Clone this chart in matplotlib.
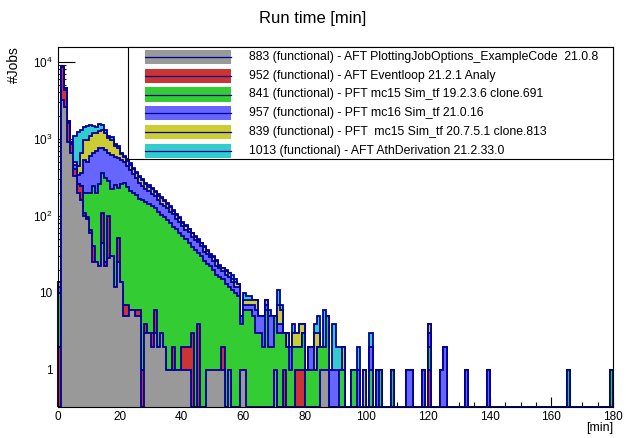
import numpy as np
import matplotlib
matplotlib.use("Agg")
import matplotlib.pyplot as plt
from matplotlib.ticker import MultipleLocator, LogLocator, FuncFormatter, NullFormatter
from matplotlib.patches import Rectangle
from matplotlib.lines import Line2D

plt.rcParams['font.family'] = ['Liberation Sans', 'DejaVu Sans']
plt.rcParams['mathtext.fontset'] = 'custom'
plt.rcParams['mathtext.rm'] = 'Liberation Sans'

# jobs per 1-minute bin, bins 0..104 (stack order bottom -> top)
gray = [0, 3200, 2600, 920, 650, 330, 200, 160, 100, 90,
        60, 25, 25, 22, 45, 22, 28, 30, 12, 25,
        14, 5, 5, 6, 6, 5, 5, 0, 3, 3,
        2, 3, 2, 3, 2, 1, 1, 1, 1, 1,
        1, 1, 1, 0, 0, 0, 0, 0, 1, 1,
        1, 1, 1, 1, 0, 1, 0, 0, 0, 1,
        1, 0, 0, 0, 0, 0, 0, 0, 0, 0,
        1, 0, 0, 0, 0, 0, 0, 0, 0, 0,
        0, 0, 0, 0, 0, 1, 1, 1, 0, 0,
        0, 0, 0, 0, 0, 0, 0, 0, 0, 0,
        0, 0, 0, 0, 0]
red = [2, 5400, 1700, 700, 200, 80, 60, 80, 10, 5,
       5, 15, 0, 0, 63, 3, 72, 0, 0, 27,
       0, 2, 2, 0, 0, 1, 1, 1, 1, 0,
       1, 3, 0, 0, 0, 0, 0, 1, 0, 0,
       1, 1, 1, 3, 0, 4, 0, 0, 0, 0,
       0, 0, 0, 1, 0, 0, 0, 0, 0, 0,
       0, 0, 0, 0, 0, 0, 0, 0, 0, 0,
       0, 0, 0, 1, 0, 0, 0, 1, 1, 1,
       0, 0, 0, 0, 0, 0, 0, 0, 0, 0,
       0, 0, 0, 0, 0, 0, 0, 0, 0, 0,
       0, 0, 0, 0, 0]
green = [8, 50, 100, 0, 0, 0, 0, 0, 90, 105,
         135, 200, 175, 238, 252, 285, 181, 190, 240, 180,
         241, 260, 231, 201, 190, 180, 160, 161, 149, 140,
         130, 119, 110, 99, 93, 86, 80, 69, 66, 59,
         52, 48, 42, 36, 36, 29, 30, 26, 23, 21,
         19, 16, 15, 13, 13, 11, 11, 10, 9, 3,
         5, 6, 6, 5, 3, 3, 2, 6, 2, 2,
         4, 3, 3, 2, 2, 1, 2, 1, 1, 2,
         1, 1, 1, 1, 2, 1, 1, 4, 0, 0,
         0, 1, 1, 0, 0, 1, 1, 0, 0, 0,
         0, 1, 0, 0, 1]
blue = [2, 30, 80, 50, 40, 50, 80, 120, 330, 300,
        400, 410, 500, 500, 390, 410, 380, 400, 330, 330,
        280, 230, 200, 180, 150, 120, 100, 85, 70, 65,
        60, 55, 50, 40, 40, 38, 30, 34, 25, 22,
        20, 15, 18, 14, 12, 13, 10, 8, 8, 7,
        6, 5, 5, 4, 4, 4, 3, 2, 3, 1,
        1, 1, 1, 2, 3, 2, 3, 1, 3, 3,
        0, 1, 1, 0, 0, 1, 0, 0, 0, 0,
        0, 1, 1, 0, 0, 0, 0, 0, 1, 1,
        1, 0, 0, 0, 0, 0, 0, 1, 0, 0,
        0, 1, 0, 1, 0]
yellow = [2, 20, 40, 20, 20, 40, 100, 290, 440, 450,
          500, 550, 500, 500, 550, 480, 370, 330, 230, 190,
          100, 75, 80, 70, 60, 50, 50, 40, 35, 30,
          27, 22, 20, 28, 20, 17, 20, 12, 10, 11,
          6, 9, 5, 6, 5, 3, 4, 5, 3, 2,
          3, 4, 1, 2, 2, 2, 1, 2, 1, 0,
          1, 1, 1, 1, 2, 0, 0, 1, 0, 0,
          0, 3, 2, 0, 1, 0, 1, 1, 2, 1,
          0, 0, 0, 2, 1, 0, 0, 0, 0, 0,
          0, 0, 1, 0, 0, 0, 0, 0, 0, 1,
          0, 0, 0, 0, 0]
cyan = [0, 10, 30, 10, 10, 570, 790, 650, 430, 500,
        400, 250, 200, 290, 200, 100, 69, 100, 38, 50,
        25, 28, 22, 23, 14, 14, 14, 13, 12, 12,
        10, 8, 8, 5, 5, 6, 4, 3, 3, 2,
        2, 2, 1, 1, 1, 1, 1, 1, 1, 1,
        1, 1, 1, 0, 1, 0, 2, 1, 0, 0,
        2, 1, 1, 0, 0, 0, 0, 0, 1, 0,
        0, 4, 1, 0, 0, 0, 1, 0, 0, 0,
        0, 0, 0, 1, 2, 0, 4, 0, 0, 3,
        1, 1, 0, 0, 0, 0, 0, 1, 0, 0,
        0, 1, 0, 0, 0]

# sparse tail, bins >= 105: {bin: jobs}
tail_red = {120: 1}
tail_green = {108: 1, 120: 1, 165: 1, 179: 1}
tail_blue = {113: 1, 114: 1, 118: 1, 120: 1, 124: 1, 125: 2, 132: 1, 139: 1}
tail_yellow = {120: 1}

labels = ["883 (functional) - AFT PlottingJobOptions_ExampleCode  21.0.8",
          "952 (functional) - AFT Eventloop 21.2.1 Analy",
          "841 (functional) - PFT mc15 Sim_tf 19.2.3.6 clone.691",
          "957 (functional) - PFT mc16 Sim_tf 21.0.16",
          "839 (functional) - PFT  mc15 Sim_tf 20.7.5.1 clone.813",
          "1013 (functional) - AFT AthDerivation 21.2.33.0"]
colors = ['#999999', '#cc3333', '#33cc33', '#6666ff', '#cccc33', '#33cccc']
edge = '#000099'

nbins = 180
edges = np.arange(nbins + 1)


def full(dense, tail):
    h = np.zeros(nbins)
    h[:len(dense)] = dense
    for b, v in tail.items():
        h[b] = v
    return h


series = [full(gray, {}), full(red, tail_red), full(green, tail_green),
          full(blue, tail_blue), full(yellow, tail_yellow), full(cyan, {})]
stack = np.cumsum(series, axis=0)

ymin, ymax = 0.33, 15500

fig = plt.figure(figsize=(6.26, 4.38), dpi=100)
ax = fig.add_axes([58 / 626, 1 - 407 / 438, 555 / 626, 360 / 438])

# draw the largest cumulative first, like a THStack
for i in range(5, -1, -1):
    vals = np.maximum(stack[i], ymin)
    ax.stairs(vals, edges, baseline=ymin, fill=True, color=colors[i], lw=0, zorder=2)
    ax.stairs(vals, edges, baseline=ymin, color=edge, lw=1.3, zorder=2, clip_on=False)

ax.set_yscale('log')
ax.set_xlim(0, 180)
ax.set_ylim(ymin, ymax)

ax.xaxis.set_major_locator(MultipleLocator(20))
ax.xaxis.set_minor_locator(MultipleLocator(5))
ax.yaxis.set_major_locator(LogLocator(base=10, numticks=10))
ax.yaxis.set_minor_locator(LogLocator(base=10, subs=np.arange(2, 10), numticks=20))
ax.yaxis.set_minor_formatter(NullFormatter())


def ylab(v, pos):
    if v < 5:
        return '1'
    if v < 50:
        return '10'
    return r'$\mathregular{10^{%d}}$' % int(round(np.log10(v)))


ax.yaxis.set_major_formatter(FuncFormatter(ylab))
ax.tick_params(which='both', direction='in', top=False, right=False, labelsize=8.5,
               width=0.8, zorder=5)
ax.tick_params(axis='y', which='major', length=12, pad=4)
ax.tick_params(axis='y', which='minor', length=6)
ax.tick_params(axis='x', which='major', length=7.5, pad=3)
ax.tick_params(axis='x', which='minor', length=3.8)
for s in ax.spines.values():
    s.set_linewidth(0.8)
    s.set_zorder(6)


# legend box (ROOT TLegend style), placed in pixel units
def fx(px):
    return px / 626


def fy(py):
    return 1 - py / 438


fig.patches.append(Rectangle((fx(128), fy(159)), fx(613) - fx(128), fy(47) - fy(159),
                             transform=fig.transFigure, facecolor='white',
                             edgecolor='black', lw=0.8, zorder=10))
for k, (lab, col) in enumerate(zip(labels, colors)):
    yc = 57 + k * 18.75
    fig.patches.append(Rectangle((fx(145), fy(yc + 7)), fx(231) - fx(145), fy(yc - 7) - fy(yc + 7),
                                 transform=fig.transFigure, facecolor=col, lw=0, zorder=11))
    fig.lines.append(Line2D([fx(145), fx(231)], [fy(yc), fy(yc)], transform=fig.transFigure,
                            color=edge, lw=0.9, zorder=12))
    fig.text(fx(249), fy(yc), lab, fontsize=8.8, va='center', ha='left', zorder=13)

fig.text(0.5, fy(18), 'Run time [min]', fontsize=12, ha='center', va='center')
fig.text(fx(14), fy(46), '#Jobs', fontsize=10, rotation=90, ha='center', va='top')
fig.text(fx(613), fy(428), '[min]', fontsize=9, ha='right', va='center')

fig.savefig('out.png', dpi=100)
